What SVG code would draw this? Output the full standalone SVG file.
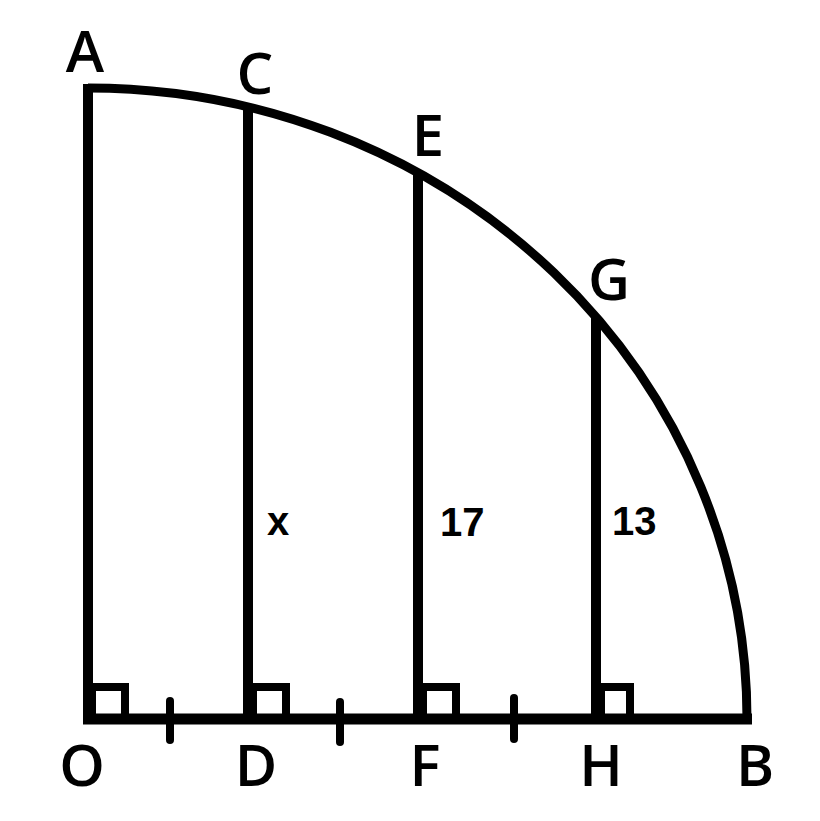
<svg xmlns="http://www.w3.org/2000/svg" width="820" height="821" viewBox="0 0 820 821">
<style>
.ln{stroke:#000;stroke-width:10;fill:none;stroke-linecap:butt}
.sq{stroke:#000;stroke-width:8;fill:none}
.tk{stroke:#000;stroke-width:8;stroke-linecap:round}
.lbl{font-family:"Open Sans","Liberation Sans",sans-serif;font-weight:600;font-size:58px;text-anchor:middle;fill:#000}
.num{font-family:"Liberation Sans",Arial,sans-serif;font-weight:bold;font-size:40px;fill:#000}
</style>
<rect width="820" height="821" fill="#fff"/>
<g id="connectors">
<path class="ln" d="M88 84 L88 719"/>
<path class="ln" d="M83 719 L752 719" style="stroke-width:11"/>
<path class="ln" d="M88 88 A659 631 0 0 1 747 719" style="stroke-width:9"/>
<path class="ln" d="M248 107 L248 719"/>
<path class="ln" d="M418 172 L418 719"/>
<path class="ln" d="M596 316 L596 719"/>
<rect class="sq" x="92" y="687" width="33" height="32"/>
<rect class="sq" x="253" y="687" width="33" height="32"/>
<rect class="sq" x="423" y="687" width="33" height="32"/>
<rect class="sq" x="601" y="687" width="29" height="32"/>
<line class="tk" x1="170" y1="701" x2="170" y2="740"/>
<line class="tk" x1="340" y1="702" x2="340" y2="742"/>
<line class="tk" x1="514" y1="698" x2="514" y2="739"/>
</g>
<g id="A"><text class="lbl" x="85" y="72">A</text></g>
<g id="C"><text class="lbl" x="255" y="94">C</text></g>
<g id="E"><text class="lbl" x="428" y="156">E</text></g>
<g id="G"><text class="lbl" x="609" y="300">G</text></g>
<g id="O"><text class="lbl" x="82" y="786">O</text></g>
<g id="D"><text class="lbl" x="256" y="786">D</text></g>
<g id="F"><text class="lbl" x="425" y="786">F</text></g>
<g id="H"><text class="lbl" x="601" y="786">H</text></g>
<g id="B"><text class="lbl" x="755" y="786">B</text></g>
<g id="labels">
<text class="num" x="267" y="535">x</text>
<text class="num" x="440" y="536">17</text>
<text class="num" x="612" y="535">13</text>
</g>
</svg>
